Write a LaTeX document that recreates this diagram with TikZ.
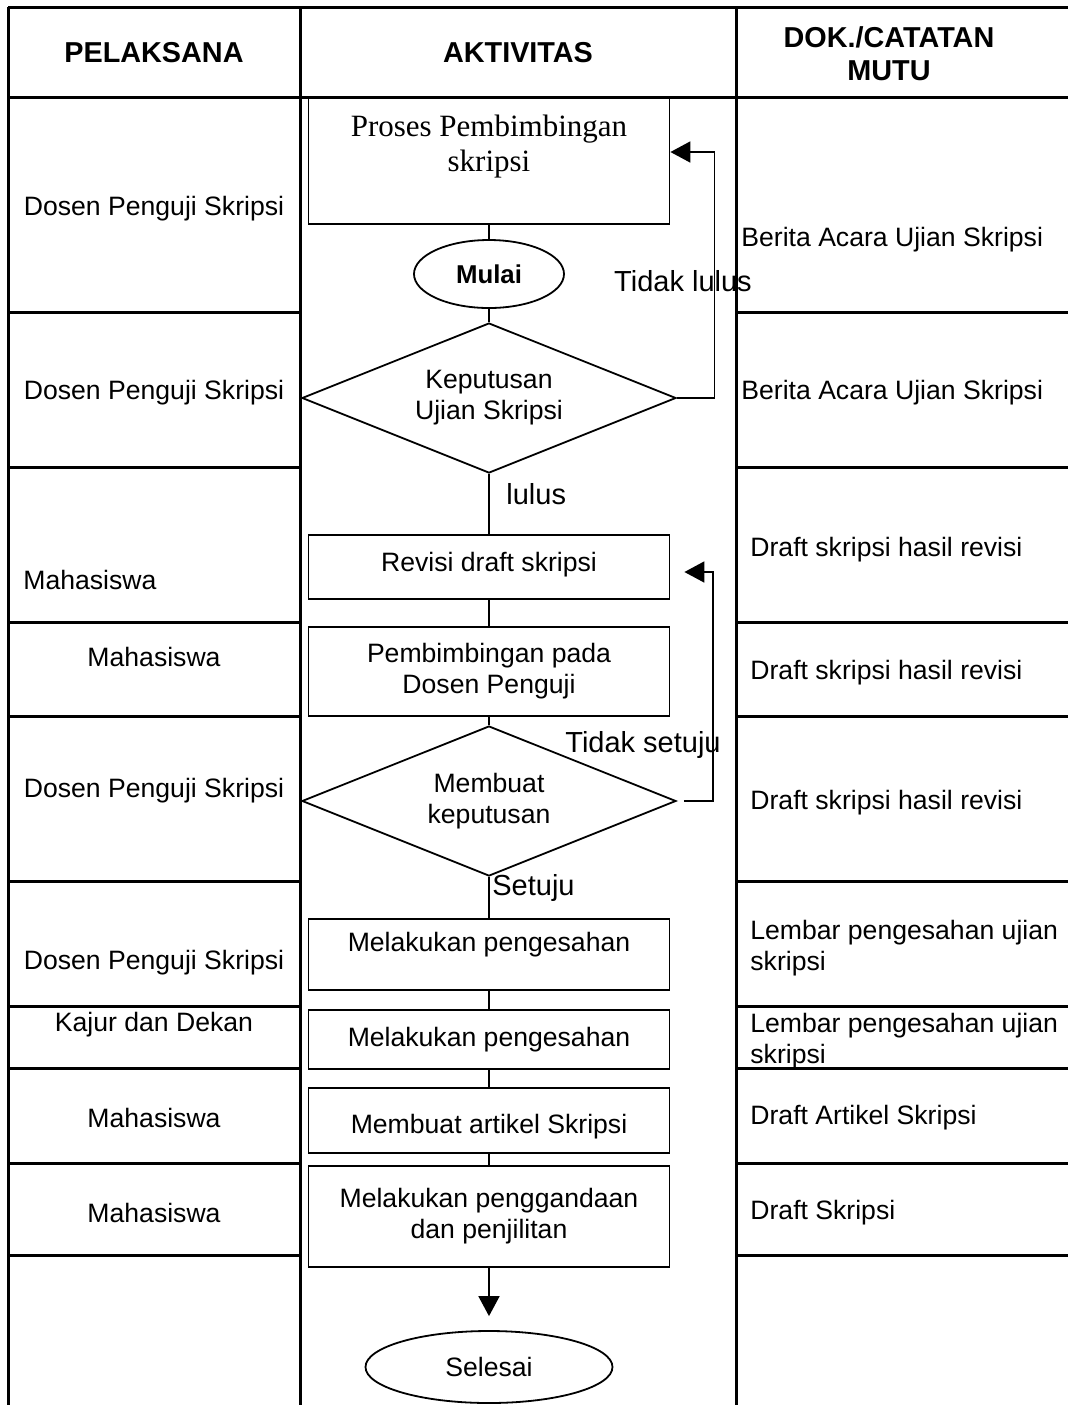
\documentclass[tikz,border=0pt]{standalone}
\usepackage{fontspec}
\setmainfont{Liberation Sans}
\newfontfamily\prosesfont{Liberation Serif}
\usetikzlibrary{shapes.geometric,arrows.meta}
\newcommand\isifont{\fontsize{13.3}{15.5}\selectfont}
\tikzset{
  tabel/.style={line width=1.5pt},
  garis/.style={line width=0.9pt},
  panah/.style={garis, -{Triangle[length=10pt,width=10.5pt]}},
  kotak/.style={draw, garis, rectangle, minimum width=180.5pt, align=center, inner sep=2pt, font=\isifont},
  belah/.style={draw, garis, diamond, aspect=2.5, minimum width=187pt, minimum height=75pt, align=center, inner sep=1pt, font=\isifont},
  oval/.style={draw, garis, ellipse, inner sep=0pt},
  judul/.style={font=\bfseries\fontsize{14.4}{16.5}\selectfont, align=center},
  isi/.style={font=\isifont, align=left, inner sep=0pt, yshift=-1.5pt},
  ket/.style={font=\fontsize{14.5}{17}\selectfont, inner sep=0pt}
}
\begin{document}
\begin{tikzpicture}[x=0.5pt, y=-0.5pt]
\useasboundingbox (0,0) rectangle (1068,1405);
% tabel
\draw [tabel] (8,7) -- (1068,7);
\draw [tabel] (8,97) -- (1068,97);
\draw [tabel] (8,7) -- (8,1405);
\draw [tabel] (300,7) -- (300,1405);
\draw [tabel] (736,7) -- (736,1405);
\foreach \y in {312,467,622,716,881,1006,1068,1163,1255} {
  \draw [tabel] (8,\y) -- (300,\y);
  \draw [tabel] (736,\y) -- (1068,\y);
}
\node [judul] (hpelaksana) at (154,53) {PELAKSANA};
\node [judul] (haktivitas) at (518,53) {AKTIVITAS};
\node [judul] (hdokumen) at (889,54) {DOK./CATATAN\\MUTU};
% pelaksana
\node [isi] (p1) at (154,206) {Dosen Penguji Skripsi};
\node [isi] (p2) at (154,390) {Dosen Penguji Skripsi};
\node [isi, anchor=west] (p3) at (23,577) {Mahasiswa};
\node [isi] (p4) at (154,654) {Mahasiswa};
\node [isi] (p5) at (154,788) {Dosen Penguji Skripsi};
\node [isi] (p6) at (154,960) {Dosen Penguji Skripsi};
\node [isi] (p7) at (154,1022) {Kajur dan Dekan};
\node [isi] (p8) at (154,1115) {Mahasiswa};
\node [isi] (p9) at (154,1210) {Mahasiswa};
% dokumen
\node [isi, anchor=west] (d1) at (741,237) {Berita Acara Ujian Skripsi};
\node [isi, anchor=west] (d2) at (741,390) {Berita Acara Ujian Skripsi};
\node [isi, anchor=west] (d3) at (750,547) {Draft skripsi hasil revisi};
\node [isi, anchor=west] (d4) at (750,670) {Draft skripsi hasil revisi};
\node [isi, anchor=west] (d5) at (750,800) {Draft skripsi hasil revisi};
\node [isi, anchor=west] (d6) at (750,945) {Lembar pengesahan ujian\\skripsi};
\node [isi, anchor=west] (d7) at (750,1038) {Lembar pengesahan ujian\\skripsi};
\node [isi, anchor=west] (d8) at (750,1115) {Draft Artikel Skripsi};
\node [isi, anchor=west] (d9) at (750,1210) {Draft Skripsi};
% aktivitas
\node [kotak, minimum height=63pt, font=\prosesfont\fontsize{15.5}{17.5}\selectfont] (proses) at (489,161) {Proses Pembimbingan\\skripsi\\ \mbox{}};
\node [oval, minimum width=75pt, minimum height=34pt, font=\bfseries\fontsize{12.9}{15}\selectfont] (mulai) at (489,274) {Mulai};
\node [belah] (keputusan) at (489,398) {Keputusan\\Ujian Skripsi};
\node [kotak, minimum height=32pt, text height=9.7pt, text depth=4.8pt] (revisi) at (489,567) {Revisi draft skripsi};
\node [kotak, minimum height=44.5pt] (bimbing) at (489,671.5) {Pembimbingan pada\\Dosen Penguji};
\node [belah] (putusan) at (489,801) {Membuat\\keputusan};
\node [kotak, minimum height=35.5pt, text height=9.7pt, text depth=12.3pt] (sahdosen) at (489,954.5) {Melakukan pengesahan};
\node [kotak, minimum height=29.5pt] (sahkajur) at (489,1039.5) {Melakukan pengesahan};
\node [kotak, minimum height=32.5pt, text height=15.7pt, text depth=2.8pt] (artikel) at (489,1120.5) {Membuat artikel Skripsi};
\node [kotak, minimum height=50.5pt] (ganda) at (489,1216.5) {Melakukan penggandaan\\dan penjilitan};
\node [oval, minimum width=123.5pt, minimum height=36pt, font=\isifont] (selesai) at (489,1367) {Selesai};
% penghubung
\draw [garis] (proses) -- (mulai);
\draw [garis] (mulai) -- (keputusan);
\draw [garis] (keputusan) -- (revisi);
\draw [garis] (revisi) -- (bimbing);
\draw [garis] (bimbing) -- (putusan);
\draw [garis] (putusan) -- (sahdosen);
\draw [garis] (sahdosen) -- (sahkajur);
\draw [garis] (sahkajur) -- (artikel);
\draw [garis] (artikel) -- (ganda);
\draw [panah, shorten >=7pt] (ganda) -- (selesai);
\draw [panah] (keputusan.east) -- ++(37.5,0) |- ([yshift=4.5pt]proses.east);
\draw [panah, shorten <=3.5pt, shorten >=7pt] (putusan.east) -- ++(36,0) |- ([yshift=-2.5pt]revisi.east);
\node [ket] (tidaklulus) at (683,281) {Tidak lulus};
\node [ket, anchor=west] (lulus) at (506,494) {lulus};
\node [ket] (tidaksetuju) at (643,745) {Tidak setuju};
\node [ket, anchor=west] (setuju) at (492,888) {Setuju};
\end{tikzpicture}
\end{document}
